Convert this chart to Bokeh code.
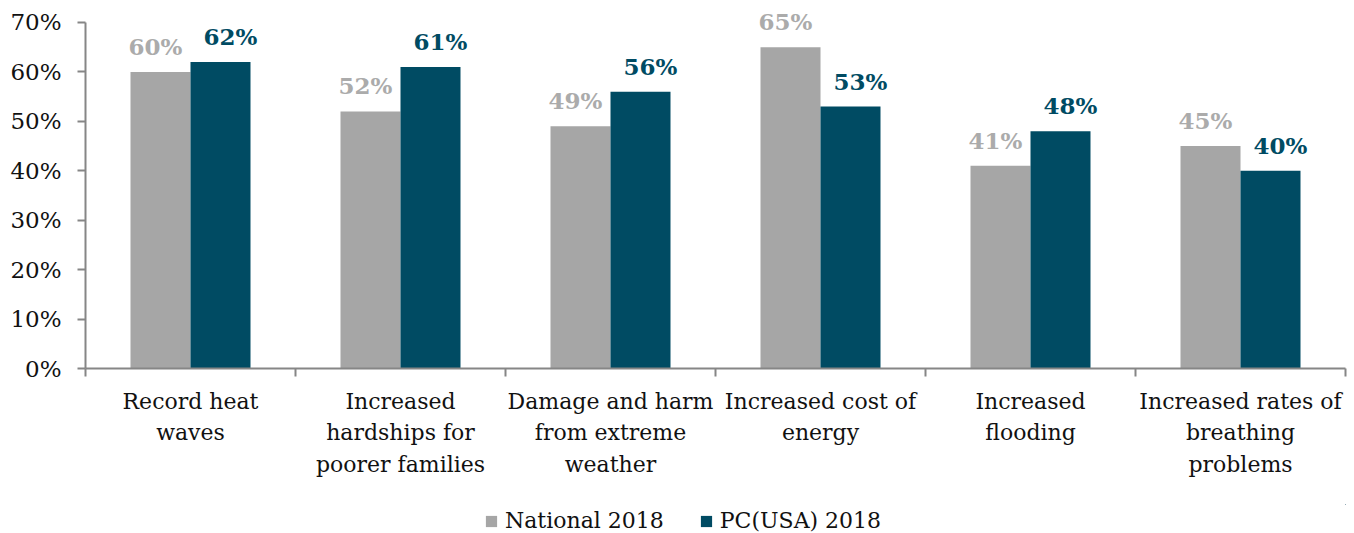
from bokeh.plotting import figure
from bokeh.layouts import column
from bokeh.models import (Range1d, LinearAxis, FixedTicker,
                          LabelSet, ColumnDataSource, Legend, LegendItem, PrintfTickFormatter)
from bokeh.core.properties import value
from bokeh.embed import file_html
from bokeh.resources import INLINE

categories = ["Record heat\nwaves",
              "Increased\nhardships for\npoorer families",
              "Damage and harm\nfrom extreme\nweather",
              "Increased cost of\nenergy",
              "Increased\nflooding",
              "Increased rates of\nbreathing\nproblems"]
national = [60, 52, 49, 65, 41, 45]
pcusa = [62, 61, 56, 53, 48, 40]
series_names = ["National 2018", "PC(USA) 2018"]
y_ticks = [0, 10, 20, 30, 40, 50, 60, 70]

GREY = "#A6A6A6"
GREY_LBL = "#ABABAB"
TEAL = "#004B63"
FONT = "DejaVu Serif"
AXIS = "#868686"

n = len(categories)
centers = [i + 0.5 for i in range(n)]
bw = 0.2857

src = ColumnDataSource(dict(
    xc=centers,
    xn=[c - bw / 2 for c in centers],
    xp=[c + bw / 2 for c in centers],
    nat=national, pc=pcusa,
    nat_lbl=[f"{v}%" for v in national],
    pc_lbl=[f"{v}%" for v in pcusa],
))

MAIN_H = 504
p = figure(width=1354, height=MAIN_H, x_range=Range1d(0, n), y_range=Range1d(0, 72.83),
           output_backend="svg", toolbar_location=None, x_axis_location=None,
           min_border_left=85, min_border_right=9, min_border_top=8,
           min_border_bottom=MAIN_H - 368)
p.outline_line_color = None
p.grid.visible = False

p.vbar(x="xn", top="nat", width=bw, source=src, fill_color=GREY, line_color=None)
p.vbar(x="xp", top="pc", width=bw, source=src, fill_color=TEAL, line_color=None)

for xcol, col, lbl, color, xo in [("xn", "nat", "nat_lbl", GREY_LBL, -5),
                                  ("xp", "pc", "pc_lbl", TEAL, 10)]:
    ls = LabelSet(x=xcol, y=col, text=lbl, source=src, x_offset=xo,
                  text_align="center", text_baseline="alphabetic", y_offset=17,
                  text_font=value(FONT), text_font_size=value("23px"), text_font_style="bold",
                  text_color=color)
    p.add_layout(ls)

# y axis
ya = p.yaxis[0]
ya.ticker = FixedTicker(ticks=y_ticks)
ya.bounds = (0, 70)
ya.formatter = PrintfTickFormatter(format="%d%%")
ya.minor_tick_line_color = None
ya.major_tick_in = 0
ya.major_tick_out = 8
ya.major_label_standoff = 16
ya.axis_line_color = AXIS
ya.axis_line_width = 2
ya.major_tick_line_color = AXIS
ya.major_tick_line_width = 2
ya.major_label_text_font = FONT
ya.major_label_text_font_size = "23px"
ya.major_label_text_color = "#111111"

# x axis: boundary ticks
ta = LinearAxis(ticker=FixedTicker(ticks=list(range(n + 1))),
                major_label_text_font_size="1px", major_label_text_alpha=0,
                major_label_standoff=0,
                minor_tick_line_color=None, major_tick_in=0, major_tick_out=8,
                axis_line_color=AXIS, axis_line_width=2,
                major_tick_line_color=AXIS, major_tick_line_width=2)
p.add_layout(ta, "below")

# x axis: category labels
ca = LinearAxis(ticker=FixedTicker(ticks=centers),
                major_label_overrides={c: lab for c, lab in zip(centers, categories)},
                axis_line_color=None, major_tick_line_color=None, minor_tick_line_color=None,
                major_tick_in=0, major_tick_out=0, major_label_standoff=12,
                major_label_text_font=FONT, major_label_text_font_size="22px",
                major_label_text_line_height=1.26,
                major_label_text_color="#111111")
p.add_layout(ca, "below")

# legend strip (its ranges exclude the bars; only the legend shows)
LEG_H = 533 - MAIN_H
lg = figure(width=1354, height=LEG_H, x_range=Range1d(-30, -20), y_range=Range1d(-30, -20),
            output_backend="svg", toolbar_location=None, x_axis_location=None,
            y_axis_location=None, min_border=0)
lg.outline_line_color = None
lg.grid.visible = False
l1 = lg.vbar(x="xn", top="nat", width=bw, source=src, fill_color=GREY, line_color=None)
l2 = lg.vbar(x="xp", top="pc", width=bw, source=src, fill_color=TEAL, line_color=None)
legend = Legend(items=[LegendItem(label=series_names[0], renderers=[l1]),
                       LegendItem(label=series_names[1], renderers=[l2])],
                orientation="horizontal", location=(399, 0),
                label_text_font=FONT, label_text_font_size="22px", label_text_color="#111111",
                glyph_width=14, glyph_height=14, label_standoff=7, spacing=35,
                border_line_color=None, background_fill_alpha=0, padding=0, margin=0)
lg.add_layout(legend, "center")

open("out.html", "w").write(file_html(column(p, lg, spacing=0), INLINE))
